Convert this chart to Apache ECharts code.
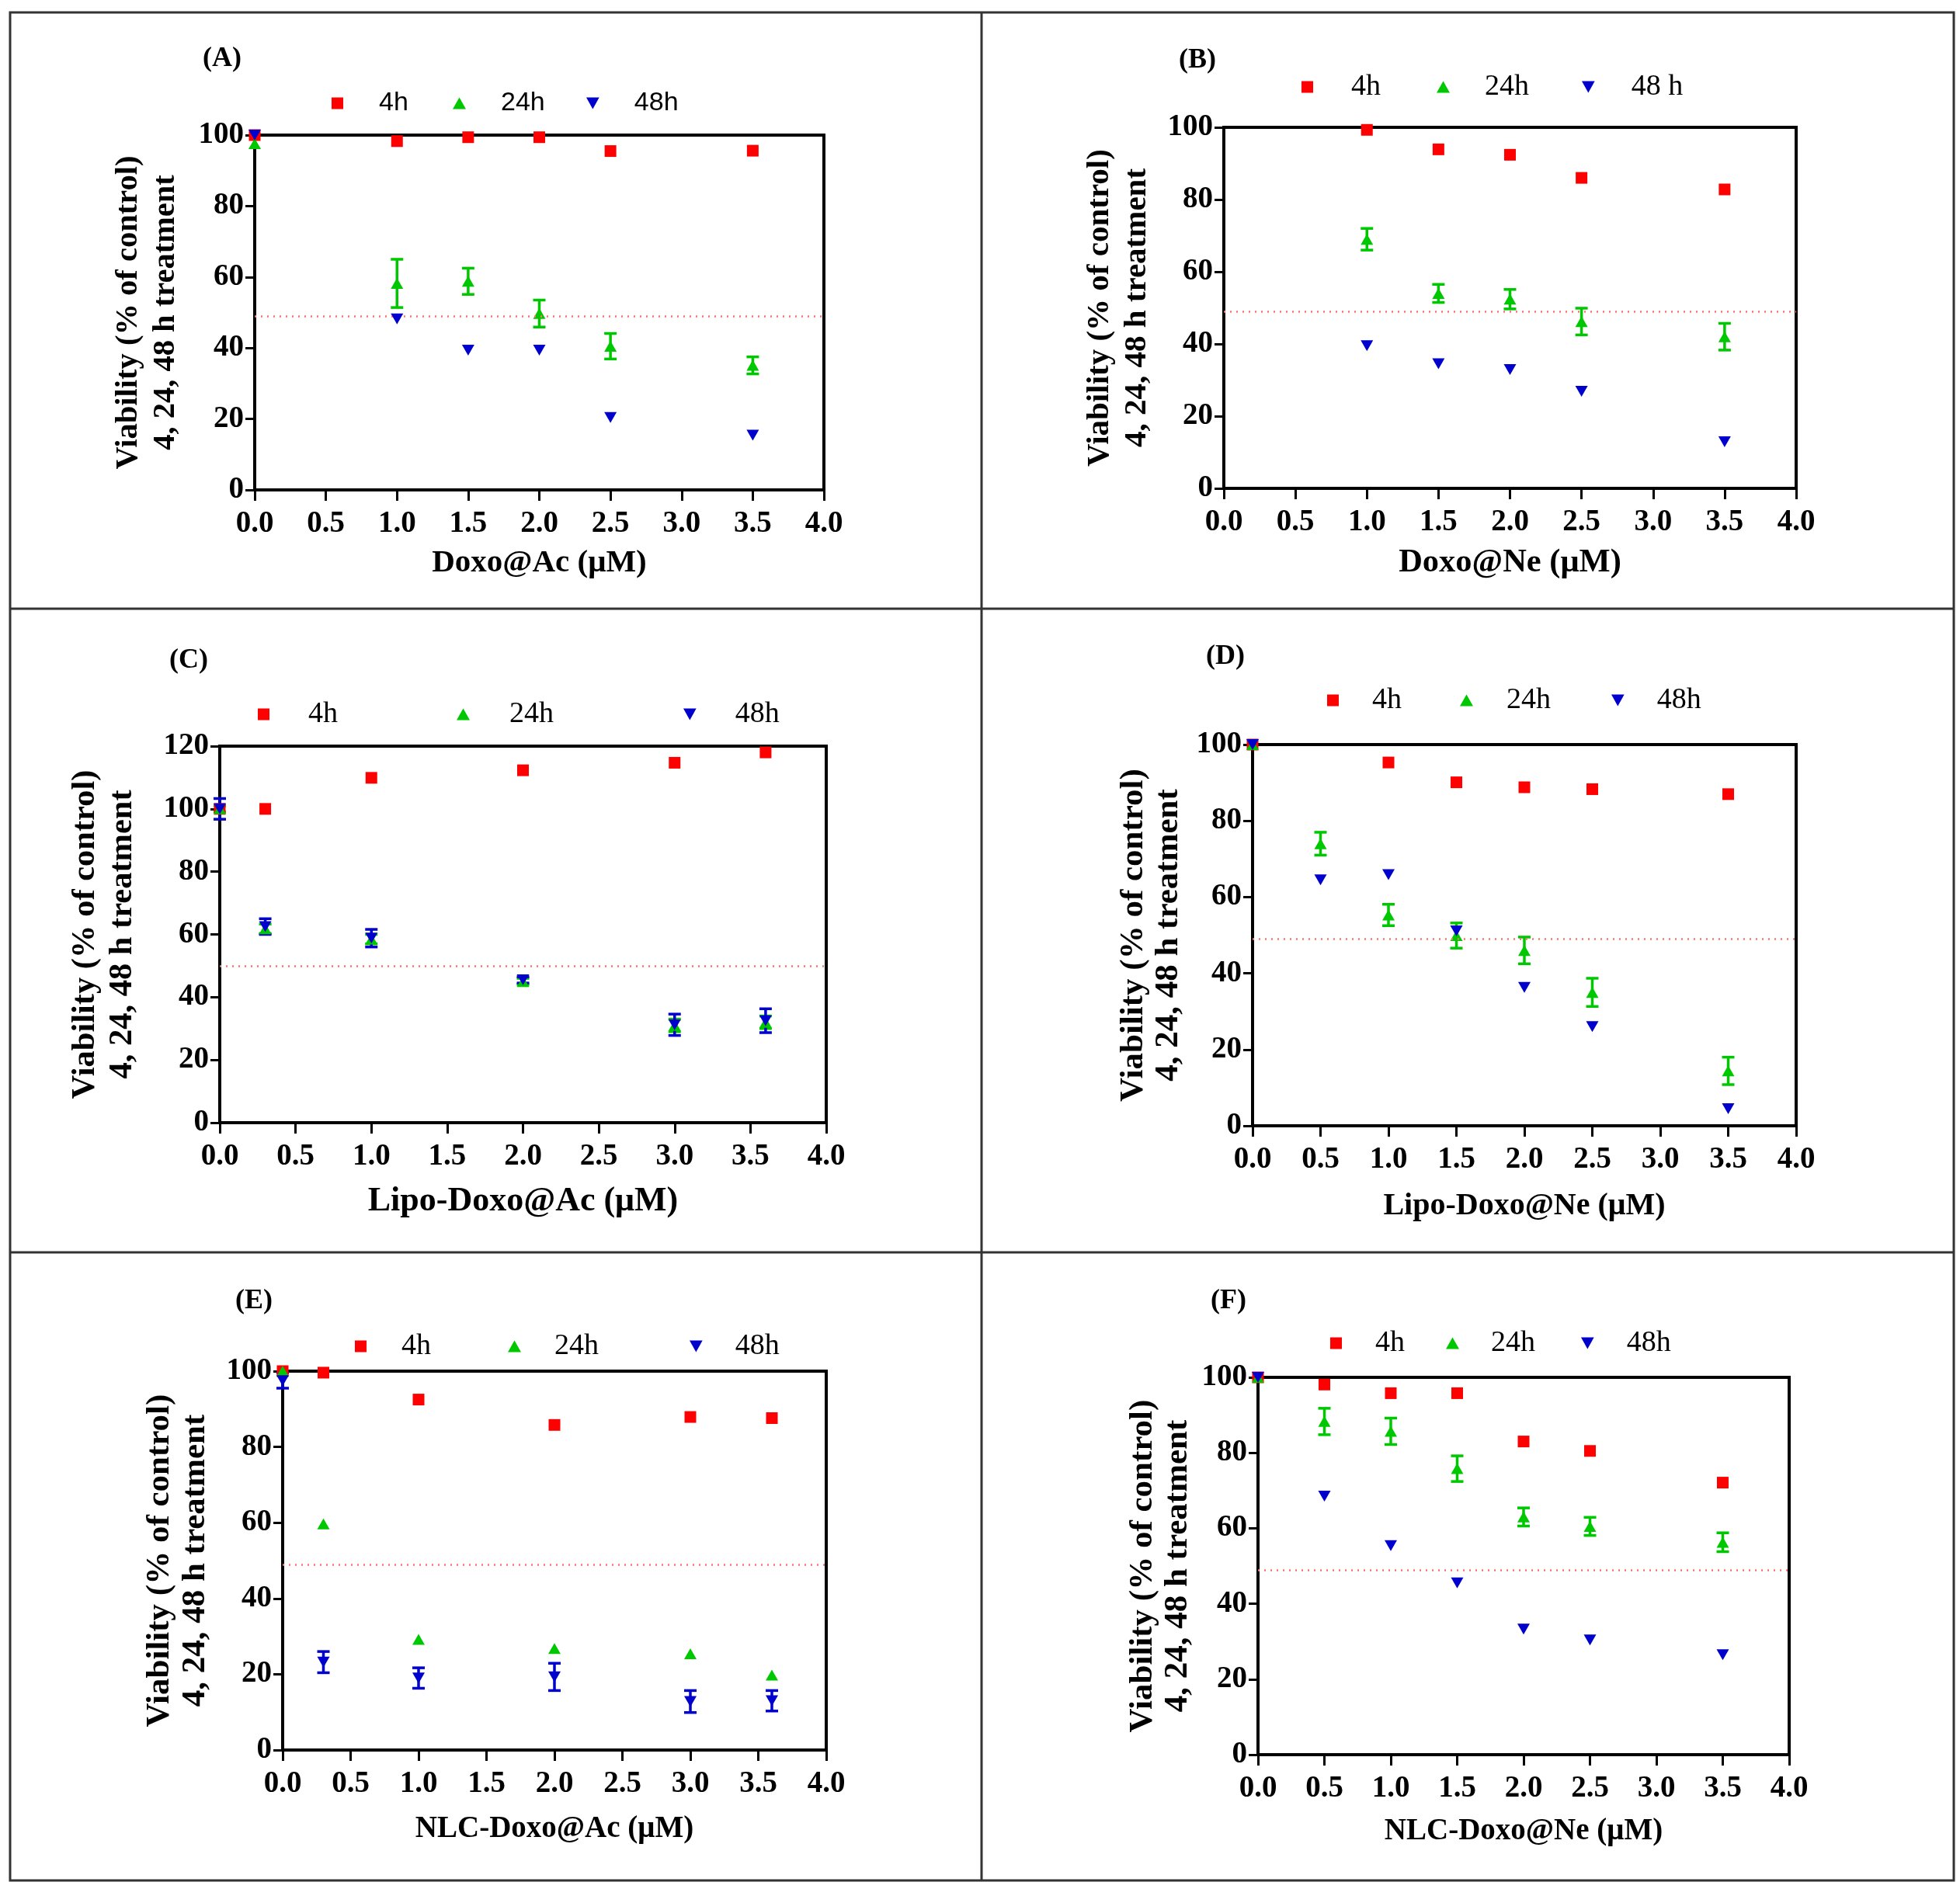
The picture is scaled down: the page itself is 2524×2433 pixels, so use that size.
<!DOCTYPE html>
<html>

<head>
    <meta charset="utf-8">
    <title>Viability panels</title>
    <script src="https://cdn.jsdelivr.net/npm/echarts@6/dist/echarts.min.js"></script>
    <style>
        html,
        body {
            margin: 0;
            padding: 0;
            background: #fff;
            overflow: hidden;
        }

        #main {
            width: 2524px;
            height: 2433px;
        }
    </style>
</head>

<body>
    <div id="main"></div>

    <script>
        // ---- data ----
        const panelTags = ['(A)', '(B)', '(C)', '(D)', '(E)', '(F)'];
        const xNames = ['Doxo@Ac (μM)', 'Doxo@Ne (μM)', 'Lipo-Doxo@Ac (μM)', 'Lipo-Doxo@Ne (μM)', 'NLC-Doxo@Ac (μM)', 'NLC-Doxo@Ne (μM)'];
        const yName = 'Viability (% of control)\n4, 24, 48 h treatment';
        const legendNames = [
            ['4h', '24h', '48h'], ['4h', '24h', '48 h'], ['4h', '24h', '48h'],
            ['4h', '24h', '48h'], ['4h', '24h', '48h'], ['4h', '24h', '48h']
        ];
        const yMax = [100, 100, 120, 100, 100, 100];
        const halfLine = [49, 49, 50, 49, 49, 49];
        const xTicks = [0, 0.5, 1, 1.5, 2, 2.5, 3, 3.5, 4];

        // (A) Doxo@Ac
        const xA = [0, 1, 1.5, 2, 2.5, 3.5];
        const a4h = [100, 98.3, 99.4, 99.4, 95.5, 95.6];
        const a24h = [97.6, 58.2, 58.8, 49.7, 40.5, 35.1];
        const a24hErr = [0, 6.8, 3.7, 3.8, 3.6, 2.4];
        const a48h = [100, 48.2, 39.4, 39.4, 20.4, 15.4];
        const a48hErr = [0, 0, 0, 0, 0, 0];

        // (B) Doxo@Ne
        const xB = [1, 1.5, 2, 2.5, 3.5];
        const b4h = [99.3, 93.9, 92.4, 86.0, 82.8];
        const b24h = [69.0, 54.0, 52.4, 46.2, 42.0];
        const b24hErr = [3.0, 2.5, 2.7, 3.7, 3.7];
        const b48h = [39.5, 34.5, 32.9, 26.9, 12.9];
        const b48hErr = [0, 0, 0, 0, 0];

        // (C) Lipo-Doxo@Ac
        const xC = [0, 0.3, 1, 2, 3, 3.6];
        const c4h = [100, 100, 109.9, 112.3, 114.7, 118];
        const c24h = [100, 61.8, 58.5, 45, 31, 32];
        const c24hErr = [1, 1.5, 1.5, 1, 2, 2];
        const c48h = [100, 62.5, 58.8, 45.5, 31.2, 32.5];
        const c48hErr = [3.3, 2.5, 2.8, 1, 3.4, 3.8];

        // (D) Lipo-Doxo@Ne
        const xD = [0, 0.5, 1, 1.5, 2, 2.5, 3.5];
        const d4h = [100, null, 95.3, 90.1, 88.8, 88.3, 87.0];
        const d24h = [100, 74, 55.3, 49.9, 46, 35, 14.4];
        const d24hErr = [0, 3, 2.8, 3.3, 3.5, 3.7, 3.6];
        const d48h = [100, 64.5, 65.9, 51.1, 36.3, 26, 4.5];
        const d48hErr = [0, 0, 0, 0, 0, 0, 0];

        // (E) NLC-Doxo@Ac
        const xE = [0, 0.3, 1, 2, 3, 3.6];
        const e4h = [100, 99.6, 92.5, 85.8, 87.9, 87.6];
        const e24h = [100, 59.7, 29.2, 26.8, 25.4, 19.8];
        const e24hErr = [0, 0, 0, 0, 0, 0];
        const e48h = [97.5, 23.2, 19.0, 19.3, 12.8, 13];
        const e48hErr = [2, 2.8, 2.7, 3.6, 2.9, 2.7];

        // (F) NLC-Doxo@Ne
        const xF = [0, 0.5, 1, 1.5, 2, 2.5, 3.5];
        const f4h = [100, 98.1, 95.8, 95.8, 83, 80.5, 72.1];
        const f24h = [100, 88.3, 85.7, 75.8, 63, 60.5, 56.3];
        const f24hErr = [0, 3.5, 3.5, 3.4, 2.4, 2.4, 2.5];
        const f48h = [100, 68.5, 55.4, 45.5, 33.3, 30.4, 26.5];
        const f48hErr = [0, 0, 0, 0, 0, 0, 0];

        const panelData = [
            [xA, a4h, a24h, a24hErr, a48h, a48hErr],
            [xB, b4h, b24h, b24hErr, b48h, b48hErr],
            [xC, c4h, c24h, c24hErr, c48h, c48hErr],
            [xD, d4h, d24h, d24hErr, d48h, d48hErr],
            [xE, e4h, e24h, e24hErr, e48h, e48hErr],
            [xF, f4h, f24h, f24hErr, f48h, f48hErr]
        ];

        // ---- layout (pixels of the 2524 x 2433 page) ----
        const layout = [
            { grid: [328, 174, 733, 457], tag: [286, 76], leg: [[427, 488], [583, 645], [755, 817]], legY: 133, sans: true, yGap: 90, yFont: 40.5, yLine: 48, xGap: 74, xFont: 41 },
            { grid: [1576, 164, 737, 465], tag: [1542, 78], leg: [[1676, 1740], [1850, 1912], [2037, 2101]], legY: 112, yGap: 88, yFont: 41, yLine: 48, xGap: 75, xFont: 42.5 },
            { grid: [283, 961, 781, 485], tag: [243, 851], leg: [[332, 397], [588, 656], [880, 947]], legY: 920, yGap: 101, yFont: 42.5, yLine: 48, xGap: 80, xFont: 44 },
            { grid: [1613, 959, 700, 491], tag: [1578, 846], leg: [[1709, 1767], [1880, 1940], [2075, 2134]], legY: 902, yGap: 86, yFont: 43, yLine: 45, xGap: 84, xFont: 40 },
            { grid: [364, 1766, 700, 488], tag: [327, 1676], leg: [[457, 517], [654, 714], [888, 947]], legY: 1734, yGap: 89, yFont: 43, yLine: 46, xGap: 82, xFont: 39 },
            { grid: [1620, 1774, 684, 486], tag: [1582, 1676], leg: [[1713, 1771], [1862, 1920], [2036, 2095]], legY: 1730, yGap: 81, yFont: 43, yLine: 45, xGap: 79, xFont: 39 }
        ];

        const colors = ['#ff0000', '#00c800', '#0000cc'];
        const symbols = ['rect', 'triangle', 'path://M0,0L10,0L5,9Z'];
        const symbolSizes = [15, [16, 14], [16, 14]];
        const serif = '"Liberation Serif", "Times New Roman", serif';
        const sans = '"Liberation Sans", Arial, sans-serif';

        const pairs = (xs, ys) => xs.map((x, i) => [x, ys[i]]).filter(p => p[1] != null);
        const bars = (xs, ys, es) => xs.map((x, i) => [x, ys[i] - es[i], ys[i] + es[i]]).filter((p, i) => es[i] > 0);

        function errorBar(color) {
            return function (params, api) {
                const x = api.value(0);
                const lo = api.coord([x, api.value(1)]);
                const hi = api.coord([x, api.value(2)]);
                const cap = 8;
                const style = { stroke: color, lineWidth: 3.5 };
                return {
                    type: 'group',
                    children: [
                        { type: 'line', shape: { x1: lo[0], y1: lo[1], x2: hi[0], y2: hi[1] }, style },
                        { type: 'line', shape: { x1: hi[0] - cap, y1: hi[1], x2: hi[0] + cap, y2: hi[1] }, style },
                        { type: 'line', shape: { x1: lo[0] - cap, y1: lo[1], x2: lo[0] + cap, y2: lo[1] }, style }
                    ]
                };
            };
        }

        const grids = [], xAxes = [], yAxes = [], series = [], legends = [], graphics = [];

        layout.forEach((L, p) => {
            grids.push({
                left: L.grid[0], top: L.grid[1], width: L.grid[2], height: L.grid[3],
                show: true, borderColor: '#000', borderWidth: 4, backgroundColor: 'transparent'
            });
            xAxes.push({
                gridIndex: p, type: 'value', min: xTicks[0], max: xTicks[xTicks.length - 1], interval: 0.5,
                name: xNames[p], nameLocation: 'middle', nameGap: L.xGap,
                nameTextStyle: { fontFamily: serif, fontWeight: 'bold', fontSize: L.xFont, color: '#000' },
                axisLine: { lineStyle: { color: '#000', width: 4 } },
                axisTick: { length: 14, lineStyle: { color: '#000', width: 3 } },
                axisLabel: { margin: 24, fontFamily: serif, fontWeight: 'bold', fontSize: 39, color: '#000', formatter: v => v.toFixed(1) },
                splitLine: { show: false }
            });
            yAxes.push({
                gridIndex: p, type: 'value', min: 0, max: yMax[p], interval: 20,
                name: yName, nameLocation: 'middle', nameRotate: 90, nameGap: L.yGap,
                nameTextStyle: { fontFamily: serif, fontWeight: 'bold', fontSize: L.yFont, lineHeight: L.yLine, color: '#000', align: 'center' },
                axisLine: { lineStyle: { color: '#000', width: 4 } },
                axisTick: { length: 12, lineStyle: { color: '#000', width: 3 } },
                axisLabel: { margin: 14, fontFamily: serif, fontWeight: 'bold', fontSize: 39, color: '#000' },
                splitLine: { show: false }
            });

            const [xs, v4, v24, e24, v48, e48] = panelData[p];
            const names = legendNames[p];
            const values = [v4, v24, v48];

            // error bars below the markers
            [[v24, e24, 1], [v48, e48, 2]].forEach(([vals, errs, k]) => {
                const d = bars(xs, vals, errs);
                if (!d.length) return;
                series.push({
                    type: 'custom', name: names[k] + ' SD', xAxisIndex: p, yAxisIndex: p,
                    data: d, encode: { x: 0, y: [1, 2] }, renderItem: errorBar(colors[k]),
                    silent: true, z: 2
                });
            });

            values.forEach((vals, k) => {
                const s = {
                    type: 'scatter', name: names[k], xAxisIndex: p, yAxisIndex: p,
                    data: pairs(xs, vals), symbol: symbols[k], symbolSize: symbolSizes[k],
                    itemStyle: { color: colors[k], opacity: 1 }, z: 3 + k
                };
                if (k === 0) {
                    s.markLine = {
                        silent: true, symbol: 'none', label: { show: false },
                        lineStyle: { color: '#ff7070', type: [2, 6], width: 2.5 },
                        data: [{ yAxis: halfLine[p] }]
                    };
                }
                series.push(s);

                legends.push({
                    left: L.leg[k][0], top: L.legY - 20, padding: 0,
                    itemWidth: k === 0 ? 15 : 17, itemHeight: 15,
                    icon: symbols[k], selectedMode: false,
                    data: [names[k]],
                    textStyle: {
                        fontFamily: L.sans ? sans : serif, fontSize: L.sans ? 34 : 38, color: '#000',
                        lineHeight: 40, padding: [0, 0, 0, L.leg[k][1] - L.leg[k][0] - (k === 0 ? 15 : 17) - 5]
                    }
                });
            });

            graphics.push({
                type: 'text', x: L.tag[0], y: L.tag[1],
                style: { text: panelTags[p], fontFamily: serif, fontWeight: 'bold', fontSize: 36, fill: '#000', align: 'center', verticalAlign: 'middle' }
            });
        });

        // panel frames
        graphics.push(
            { type: 'rect', shape: { x: 13, y: 16, width: 2503, height: 2406 }, style: { fill: 'none', stroke: '#333', lineWidth: 3 } },
            { type: 'line', shape: { x1: 1264, y1: 16, x2: 1264, y2: 2422 }, style: { stroke: '#333', lineWidth: 3 } },
            { type: 'line', shape: { x1: 13, y1: 784, x2: 2516, y2: 784 }, style: { stroke: '#333', lineWidth: 3 } },
            { type: 'line', shape: { x1: 13, y1: 1613, x2: 2516, y2: 1613 }, style: { stroke: '#333', lineWidth: 3 } }
        );

        const myChart = echarts.init(document.getElementById('main'));
        myChart.setOption({
            animation: false,
            backgroundColor: '#fff',
            grid: grids,
            xAxis: xAxes,
            yAxis: yAxes,
            legend: legends,
            series: series,
            graphic: graphics
        });
    </script>
</body>

</html>
